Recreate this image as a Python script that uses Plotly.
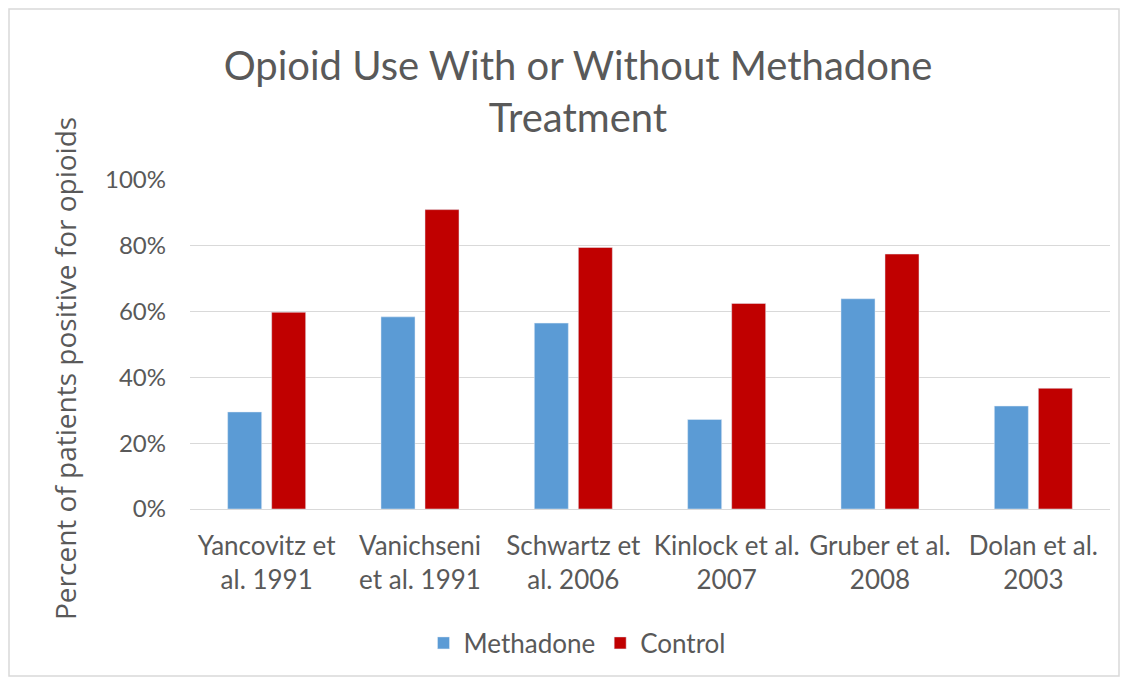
import plotly.graph_objects as go

categories = ["Yancovitz et<br>al. 1991", "Vanichseni<br>et al. 1991", "Schwartz et<br>al. 2006",
              "Kinlock et al.<br>2007", "Gruber et al.<br>2008", "Dolan et al.<br>2003"]
methadone = [0.295, 0.584, 0.565, 0.272, 0.639, 0.313]
control = [0.598, 0.910, 0.795, 0.625, 0.775, 0.367]
y_ticks = [0, 0.2, 0.4, 0.6, 0.8, 1.0]
y_tick_labels = ["0%", "20%", "40%", "60%", "80%", "100%"]

grey = "#595959"
W, H = 1126, 684
L, R, T, B = 190, 16, 180, 175
pw, ph = W - L - R, H - T - B

def px_x(x):
    return (x - L) / pw

def px_y(y):
    return (H - B - y) / ph

fig = go.Figure()
fig.add_trace(go.Bar(name="Methadone", x=categories, y=methadone, marker_color="#5B9BD5"))
fig.add_trace(go.Bar(name="Control", x=categories, y=control, marker_color="#C00000"))

fig.update_layout(
    width=W, height=H,
    margin=dict(l=L, r=R, t=T, b=B),
    paper_bgcolor="white", plot_bgcolor="white",
    barmode="group", bargap=0.426, bargroupgap=0.227,
    font=dict(family="Lato", color=grey),
    title=dict(text="Opioid Use With or Without Methadone<br>Treatment",
               x=px_x(578), xref="paper", xanchor="center",
               y=1 - 80 / H, yref="container", yanchor="middle",
               font=dict(size=40, color=grey, family="Lato")),
    showlegend=True,
    legend=dict(orientation="h", x=px_x(577), xanchor="center", y=px_y(643), yanchor="middle",
                font=dict(size=26, color=grey, family="Lato"), traceorder="normal",
                itemwidth=30),
    xaxis=dict(showgrid=False, showline=False, ticks="", tickfont=dict(size=26, color=grey),
               ticklabelstandoff=19),
    yaxis=dict(range=[0, 1], tickvals=y_ticks, ticktext=y_tick_labels,
               showgrid=True, gridcolor="#D9D9D9", gridwidth=1,
               zeroline=True, zerolinecolor="#D9D9D9", zerolinewidth=1,
               showline=False, ticks="", tickfont=dict(size=24, color=grey),
               ticklabelstandoff=23),
)

fig.add_annotation(text="Percent of patients positive for opioids", textangle=-90,
                   xref="paper", yref="paper", x=px_x(65), y=px_y(369),
                   xanchor="center", yanchor="middle", showarrow=False,
                   font=dict(size=28, color=grey, family="Open Sans"))

fig.add_shape(type="rect", xref="paper", yref="paper",
              x0=px_x(9), x1=px_x(1119), y0=px_y(676), y1=px_y(9),
              line=dict(color="#D9D9D9", width=1.5), fillcolor="rgba(0,0,0,0)", layer="below")

fig.write_html("out.html")
